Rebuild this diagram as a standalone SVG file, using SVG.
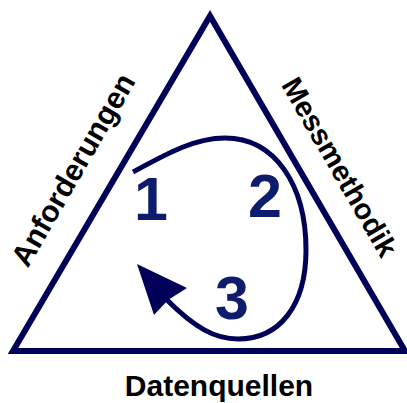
<svg xmlns="http://www.w3.org/2000/svg" width="407" height="403" viewBox="0 0 407 403">
<style>
.lbl{font-family:"Liberation Sans",Arial,sans-serif;font-weight:bold;font-size:30px;fill:#000000;text-anchor:middle}
.num{font-family:"Liberation Sans",Arial,sans-serif;font-weight:bold;font-size:61px;fill:#0d1c6c;text-anchor:middle}
.tri{fill:none;stroke:#000058;stroke-width:6;stroke-linejoin:miter}
.cyc{fill:none;stroke:#000058;stroke-width:5}
</style>
<rect width="407" height="403" fill="#ffffff"/>
<g id="triangle">
<polygon class="tri" points="13,351 210,16 405,351"/>
</g>
<g id="anforderungen">
<text class="lbl" transform="translate(82,175) rotate(-60)">Anforderungen</text>
</g>
<g id="messmethodik">
<text class="lbl" style="font-size:29px" transform="translate(331,172) rotate(60)">Messmethodik</text>
</g>
<g id="datenquellen">
<text class="lbl" x="219" y="396">Datenquellen</text>
</g>
<g id="connectors">
<path class="cyc" d="M133,172 C168,153 195,138 225,138 C275,138 306,185 306,250 C306,305 280,339 238,339 C215,339 195,328 166,299"/>
<polygon fill="#000058" points="137,264 187,288 168,300 154,315"/>
</g>
<g id="step1"><text class="num" x="151" y="220">1</text></g>
<g id="step2"><text class="num" x="265" y="217">2</text></g>
<g id="step3"><text class="num" x="232" y="319">3</text></g>
</svg>
